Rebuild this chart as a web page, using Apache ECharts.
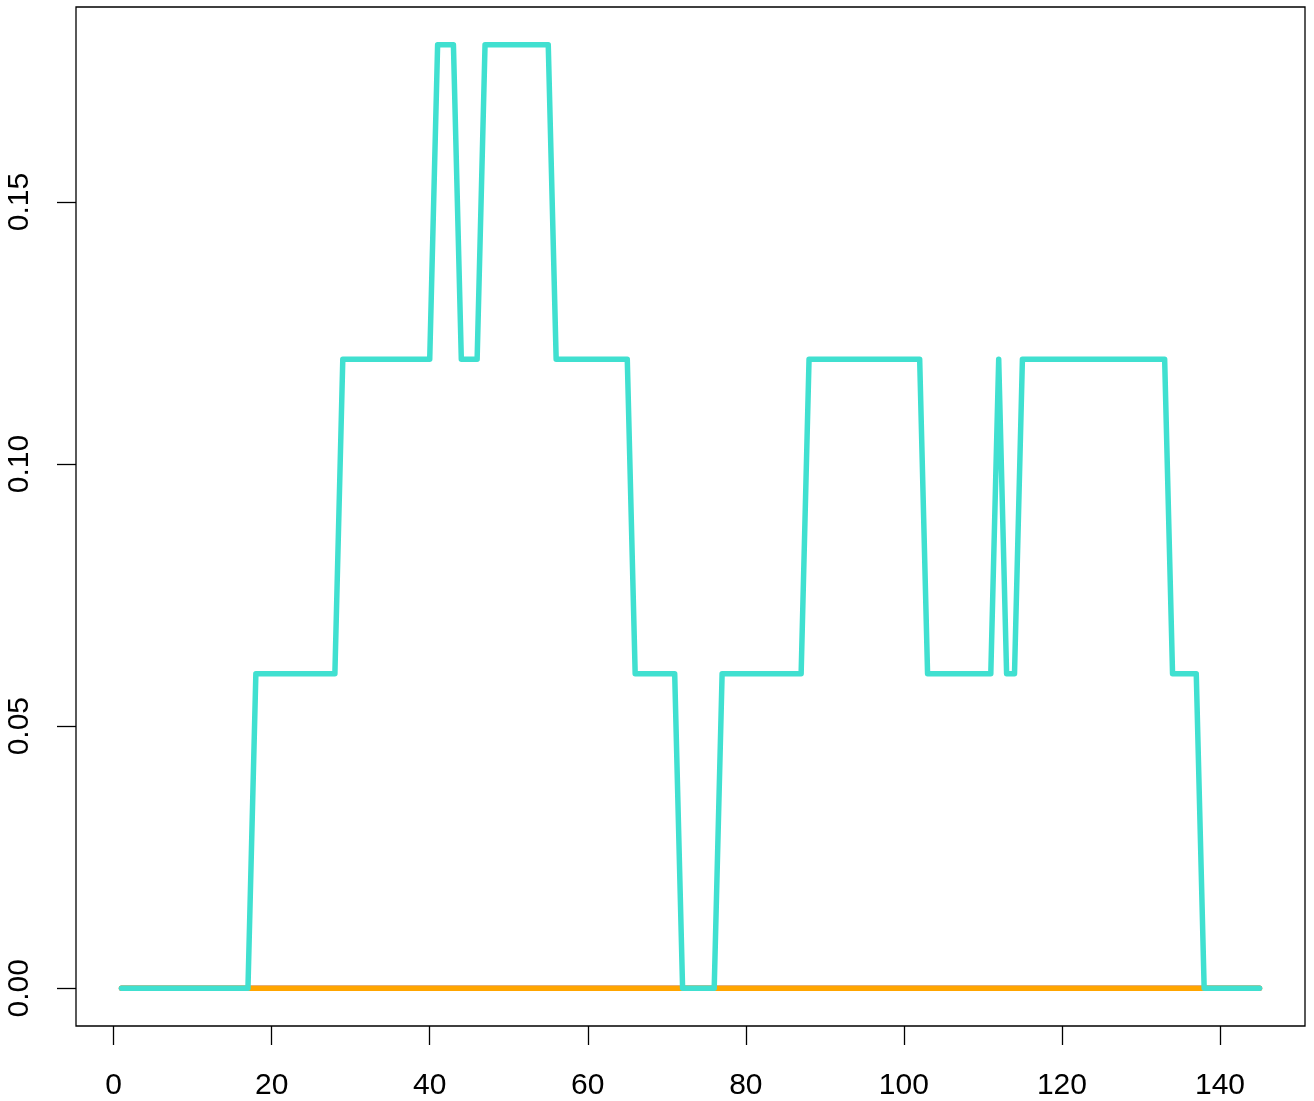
<!DOCTYPE html>
<html>
<head>
<meta charset="utf-8">
<script src="https://cdn.jsdelivr.net/npm/echarts@6/dist/echarts.min.js"></script>
<style>html,body{margin:0;padding:0;background:#fff}#c{width:1314px;height:1101px}</style>
</head>
<body>
<div id="c"></div>
<script>
// x index 1..145
var xIndex = [];
for (var i = 1; i <= 145; i++) xIndex.push(i);

var xTicks = [0, 20, 40, 60, 80, 100, 120, 140];
var yTicks = [0, 0.05, 0.10, 0.15];

// turquoise series
var cyanValues = [
  0,0,0,0,0,0,0,0,0,0,0,0,0,0,0,0,0,
  0.06,0.06,0.06,0.06,0.06,0.06,0.06,0.06,0.06,0.06,0.06,
  0.12,0.12,0.12,0.12,0.12,0.12,0.12,0.12,0.12,0.12,0.12,0.12,
  0.18,0.18,0.18,
  0.12,0.12,0.12,
  0.18,0.18,0.18,0.18,0.18,0.18,0.18,0.18,0.18,
  0.12,0.12,0.12,0.12,0.12,0.12,0.12,0.12,0.12,0.12,
  0.06,0.06,0.06,0.06,0.06,0.06,
  0,0,0,0,0,
  0.06,0.06,0.06,0.06,0.06,0.06,0.06,0.06,0.06,0.06,0.06,
  0.12,0.12,0.12,0.12,0.12,0.12,0.12,0.12,0.12,0.12,0.12,0.12,0.12,0.12,0.12,
  0.06,0.06,0.06,0.06,0.06,0.06,0.06,0.06,0.06,
  0.12,
  0.06,0.06,
  0.12,0.12,0.12,0.12,0.12,0.12,0.12,0.12,0.12,0.12,0.12,0.12,0.12,0.12,0.12,0.12,0.12,0.12,0.12,
  0.06,0.06,0.06,0.06,
  0,0,0,0,0,0,0,0
];

// orange series (flat zero)
var orangeValues = [
  0,0,0,0,0,0,0,0,0,0,0,0,0,0,0,0,0,0,0,0,0,0,0,0,0,0,0,0,0,0,
  0,0,0,0,0,0,0,0,0,0,0,0,0,0,0,0,0,0,0,0,0,0,0,0,0,0,0,0,0,0,
  0,0,0,0,0,0,0,0,0,0,0,0,0,0,0,0,0,0,0,0,0,0,0,0,0,0,0,0,0,0,
  0,0,0,0,0,0,0,0,0,0,0,0,0,0,0,0,0,0,0,0,0,0,0,0,0,0,0,0,0,0,
  0,0,0,0,0,0,0,0,0,0,0,0,0,0,0,0,0,0,0,0,0,0,0,0,0
];

// purple series (flat zero, underneath)
var purpleValues = [
  0,0,0,0,0,0,0,0,0,0,0,0,0,0,0,0,0,0,0,0,0,0,0,0,0,0,0,0,0,0,
  0,0,0,0,0,0,0,0,0,0,0,0,0,0,0,0,0,0,0,0,0,0,0,0,0,0,0,0,0,0,
  0,0,0,0,0,0,0,0,0,0,0,0,0,0,0,0,0,0,0,0,0,0,0,0,0,0,0,0,0,0,
  0,0,0,0,0,0,0,0,0,0,0,0,0,0,0,0,0,0,0,0,0,0,0,0,0,0,0,0,0,0,
  0,0,0,0,0,0,0,0,0,0,0,0,0,0,0,0,0,0,0,0,0,0,0,0,0
];

function pairs(vals) {
  return vals.map(function (v, k) { return [xIndex[k], v]; });
}

var chart = echarts.init(document.getElementById('c'), null, {renderer: 'canvas'});
var font = {fontFamily: 'Liberation Sans, Arial, Helvetica, sans-serif', fontSize: 30, color: '#000'};

function lineSeries(vals, color) {
  return {
    type: 'line',
    data: pairs(vals),
    showSymbol: false,
    symbol: 'none',
    lineStyle: {color: color, width: 5.5, cap: 'round', join: 'round'},
    itemStyle: {color: color},
    silent: true
  };
}

chart.setOption({
  animation: false,
  backgroundColor: '#fff',
  grid: {
    left: 76, top: 7, right: 9, bottom: 71,
    show: true, borderColor: '#000', borderWidth: 1.3, backgroundColor: 'transparent'
  },
  xAxis: {
    type: 'value',
    min: -4.76, max: 150.76,
    axisLine: {show: false, onZero: false},
    splitLine: {show: false},
    axisTick: {show: true, inside: false, length: 19, customValues: xTicks, lineStyle: {color: '#000', width: 1.3}},
    axisLabel: Object.assign({show: true, margin: 45, customValues: xTicks,
      showMinLabel: true, showMaxLabel: true,
      formatter: function (v) { return String(v); }}, font)
  },
  yAxis: {
    type: 'value',
    min: -0.0072, max: 0.1872,
    axisLine: {show: false, onZero: false},
    splitLine: {show: false},
    axisTick: {show: true, inside: false, length: 19, customValues: yTicks, lineStyle: {color: '#000', width: 1.3}},
    axisLabel: Object.assign({show: true, margin: 41, rotate: 90, customValues: yTicks,
      showMinLabel: true, showMaxLabel: true,
      formatter: function (v) { return v.toFixed(2); }}, font)
  },
  series: [
    lineSeries(purpleValues, '#9370DB'),
    lineSeries(orangeValues, '#FFA500'),
    lineSeries(cyanValues, '#40E0D0')
  ]
});
</script>
</body>
</html>
